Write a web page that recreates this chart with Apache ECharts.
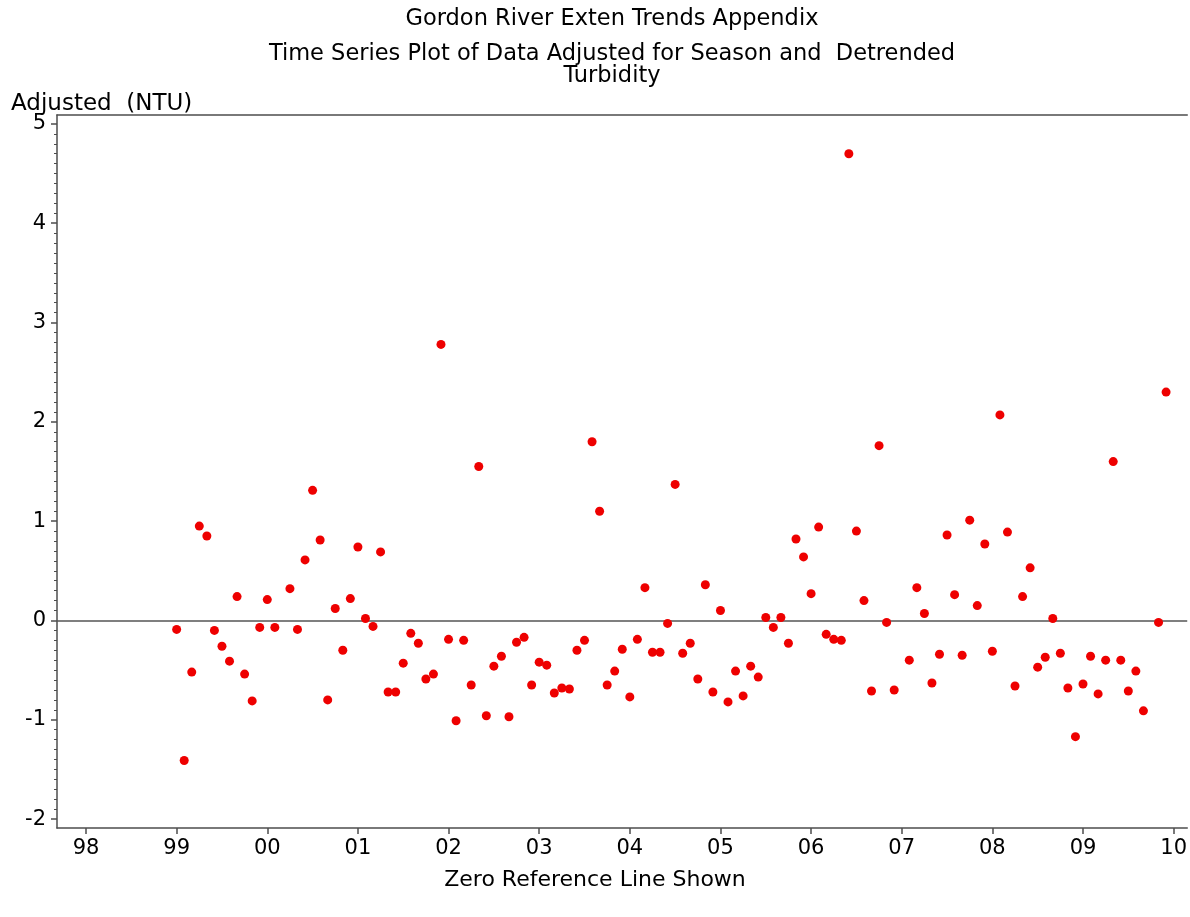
<!DOCTYPE html>
<html>
<head>
<meta charset="utf-8">
<title>Gordon River Exten Trends Appendix</title>
<script src="https://cdn.jsdelivr.net/npm/echarts@6/dist/echarts.min.js"></script>
<style>
  html, body { margin: 0; padding: 0; background: #ffffff; }
  #chart { width: 1190px; height: 917px; }
</style>
</head>
<body>
<div id="chart"></div>
<script>
// ---- Text ----
const titleLines = [
  'Gordon River Exten Trends Appendix',
  'Time Series Plot of Data Adjusted for Season and  Detrended',
  'Turbidity'
];
const yAxisTitle = 'Adjusted  (NTU)';
const footNote = 'Zero Reference Line Shown';

// ---- Axis ticks ----
const yearTicks  = [1998, 1999, 2000, 2001, 2002, 2003, 2004, 2005, 2006, 2007, 2008, 2009, 2010];
const yearLabels = ['98', '99', '00', '01', '02', '03', '04', '05', '06', '07', '08', '09', '10'];
const valueTicks = [-2, -1, 0, 1, 2, 3, 4, 5];

// ---- Monthly adjusted turbidity (NTU), Jan..Dec; null = no sample ----
const dataYears = [1999, 2000, 2001, 2002, 2003, 2004, 2005, 2006, 2007, 2008, 2009];
const adj1999 = [-0.09, -1.41, -0.52, 0.95, 0.85, -0.10, -0.26, -0.41, 0.24, -0.54, -0.81, -0.07];
const adj2000 = [0.21, -0.07, null, 0.32, -0.09, 0.61, 1.31, 0.81, -0.80, 0.12, -0.30, 0.22];
const adj2001 = [0.74, 0.02, -0.06, 0.69, -0.72, -0.72, -0.43, -0.13, -0.23, -0.59, -0.54, 2.78];
const adj2002 = [-0.19, -1.01, -0.20, -0.65, 1.55, -0.96, -0.46, -0.36, -0.97, -0.22, -0.17, -0.65];
const adj2003 = [-0.42, -0.45, -0.73, -0.68, -0.69, -0.30, -0.20, 1.80, 1.10, -0.65, -0.51, -0.29];
const adj2004 = [-0.77, -0.19, 0.33, -0.32, -0.32, -0.03, 1.37, -0.33, -0.23, -0.59, 0.36, -0.72];
const adj2005 = [0.10, -0.82, -0.51, -0.76, -0.46, -0.57, 0.03, -0.07, 0.03, -0.23, 0.82, 0.64];
const adj2006 = [0.27, 0.94, -0.14, -0.19, -0.20, 4.70, 0.90, 0.20, -0.71, 1.76, -0.02, -0.70];
const adj2007 = [null, -0.40, 0.33, 0.07, -0.63, -0.34, 0.86, 0.26, -0.35, 1.01, 0.15, 0.77];
const adj2008 = [-0.31, 2.07, 0.89, -0.66, 0.24, 0.53, -0.47, -0.37, 0.02, -0.33, -0.68, -1.17];
const adj2009 = [-0.64, -0.36, -0.74, -0.40, 1.60, -0.40, -0.71, -0.51, -0.91, null, -0.02, 2.30];

const monthlyByYear = [adj1999, adj2000, adj2001, adj2002, adj2003, adj2004,
                       adj2005, adj2006, adj2007, adj2008, adj2009];

// Place each month at year + (month - 1) / 12 on a decimal-year axis
const points = [];
dataYears.forEach((yr, i) => {
  monthlyByYear[i].forEach((v, m) => {
    if (v !== null) points.push([yr + m / 12, v]);
  });
});

// Minor ticks every 0.1 NTU between the labelled values
const minorTicks = [];
for (let k = -20; k <= 50; k++) {
  if (k % 10 !== 0) minorTicks.push(k / 10);
}

const FONT = '"DejaVu Sans", "Liberation Sans", sans-serif';
const AXIS_COLOR = '#4d4d4d';
const X_MIN = 1997.68, X_MAX = 2010.15;
const Y_MIN = -2.09, Y_MAX = 5.09;

const chart = echarts.init(document.getElementById('chart'), null, { renderer: 'canvas' });

function textEl(x, y, text, align, size) {
  return {
    type: 'text',
    x: x,
    y: y,
    silent: true,
    style: {
      text: text,
      fontFamily: FONT,
      fontSize: size,
      fill: '#000000',
      align: align,
      textAlign: align,
      verticalAlign: 'middle',
      textVerticalAlign: 'middle'
    }
  };
}

chart.setOption({
  animation: false,
  backgroundColor: '#ffffff',
  grid: { left: 57, right: 2, top: 115, bottom: 89, containLabel: false },
  graphic: [
    textEl(612, 19, titleLines[0], 'center', 22.5),
    textEl(612, 54, titleLines[1], 'center', 22.5),
    textEl(612, 76, titleLines[2], 'center', 22.5),
    textEl(11, 104, yAxisTitle, 'left', 23),
    textEl(595, 880, footNote, 'center', 22)
  ],
  xAxis: [
    {
      type: 'value',
      position: 'bottom',
      min: X_MIN,
      max: X_MAX,
      axisLine: { show: true, onZero: false, lineStyle: { color: AXIS_COLOR, width: 1.5 } },
      axisTick: { show: true, inside: false, length: 6, customValues: yearTicks,
                  lineStyle: { color: AXIS_COLOR, width: 1.5 } },
      axisLabel: {
        show: true,
        customValues: yearTicks,
        margin: 10,
        color: '#000000',
        fontFamily: FONT,
        fontSize: 21,
        formatter: v => yearLabels[yearTicks.indexOf(Math.round(v))]
      },
      splitLine: { show: false }
    },
    {
      // frame line along the top of the plot
      type: 'value',
      position: 'top',
      min: X_MIN,
      max: X_MAX,
      axisLine: { show: true, onZero: false, lineStyle: { color: AXIS_COLOR, width: 1.5 } },
      axisTick: { show: false },
      axisLabel: { show: false },
      splitLine: { show: false }
    }
  ],
  yAxis: [
    {
      type: 'value',
      position: 'left',
      min: Y_MIN,
      max: Y_MAX,
      axisLine: { show: true, onZero: false, lineStyle: { color: AXIS_COLOR, width: 1.5 } },
      axisTick: { show: true, inside: false, length: 6, customValues: valueTicks,
                  lineStyle: { color: AXIS_COLOR, width: 1.5 } },
      axisLabel: {
        show: true,
        customValues: valueTicks,
        margin: 11,
        color: '#000000',
        fontFamily: FONT,
        fontSize: 21
      },
      splitLine: { show: false }
    },
    {
      // minor ticks on the value axis
      type: 'value',
      position: 'left',
      offset: 0,
      min: Y_MIN,
      max: Y_MAX,
      axisLine: { show: false },
      axisTick: { show: true, inside: false, length: 3, customValues: minorTicks,
                  lineStyle: { color: AXIS_COLOR, width: 1 } },
      axisLabel: { show: false },
      splitLine: { show: false }
    }
  ],
  series: [
    {
      type: 'scatter',
      name: 'Adjusted turbidity',
      xAxisIndex: 0,
      yAxisIndex: 0,
      data: points,
      symbol: 'circle',
      symbolSize: 9,
      itemStyle: { color: '#ee0000', opacity: 1 },
      z: 3,
      markLine: {
        silent: true,
        symbol: 'none',
        label: { show: false },
        lineStyle: { color: '#555555', width: 1.5, type: 'solid' },
        data: [{ yAxis: 0 }],
        z: 2
      }
    }
  ]
});
</script>
</body>
</html>
